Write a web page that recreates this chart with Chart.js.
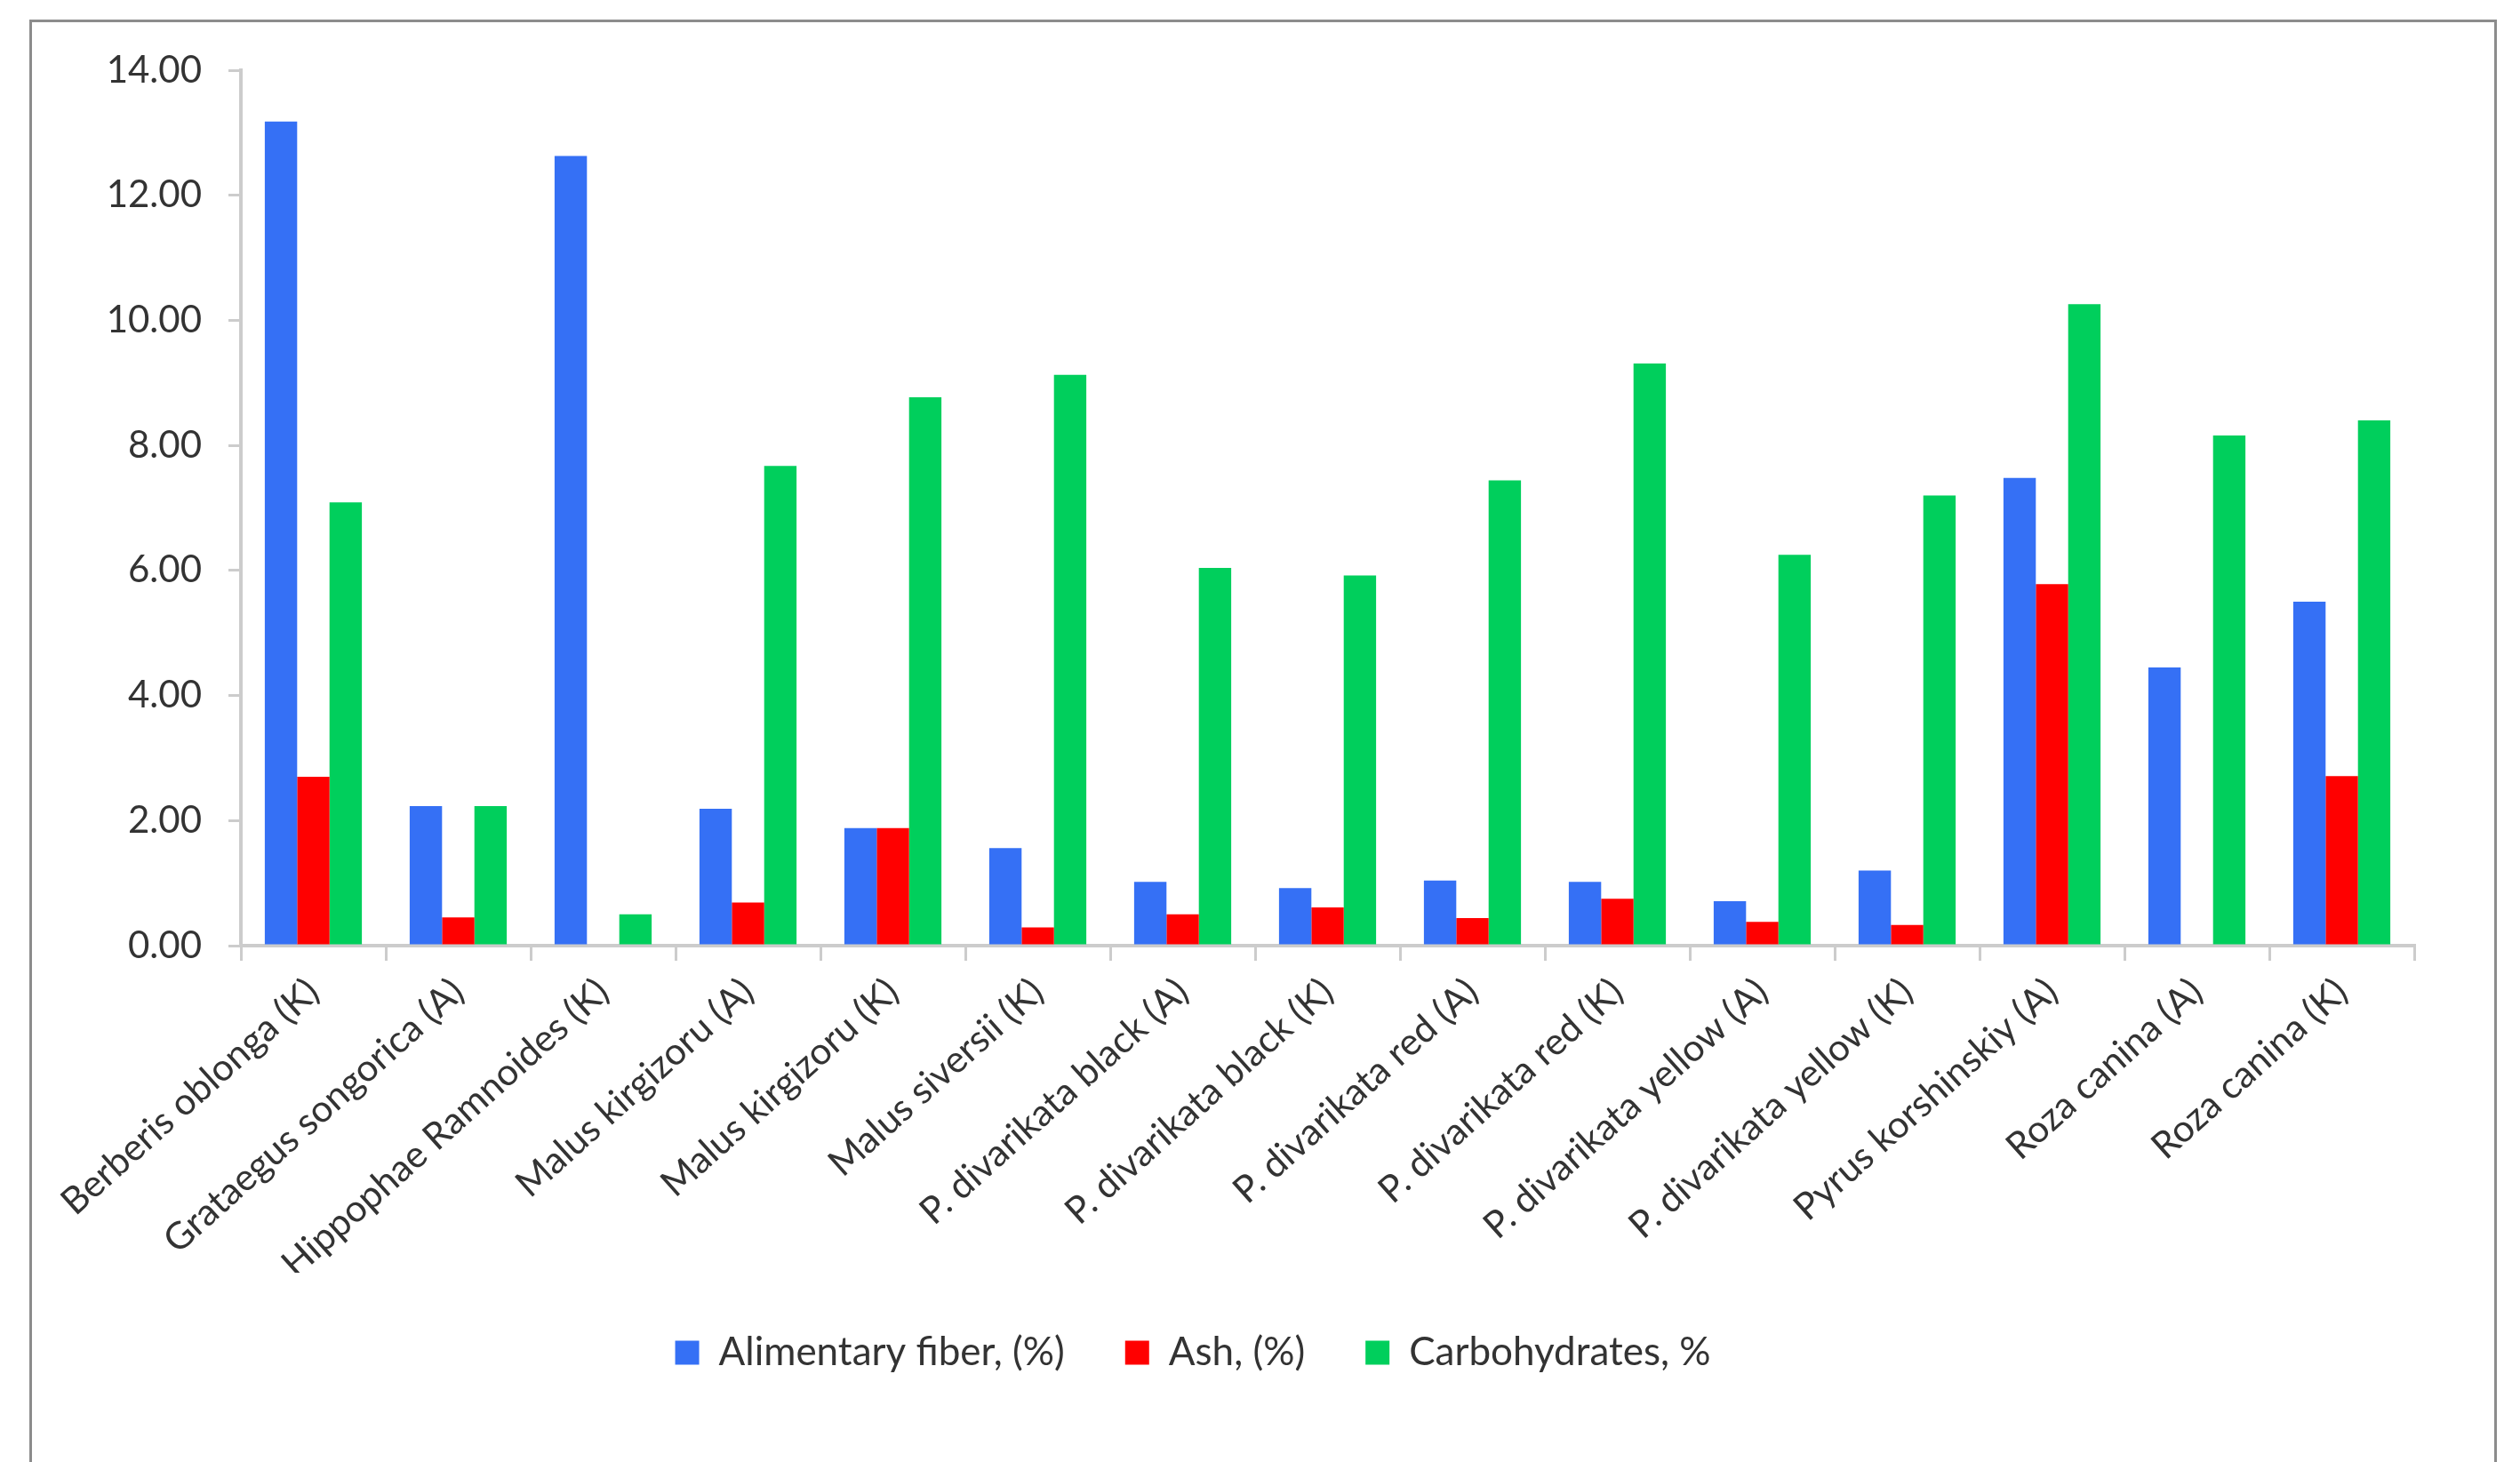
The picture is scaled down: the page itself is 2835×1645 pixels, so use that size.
<!DOCTYPE html>
<html>
<head>
<meta charset="utf-8">
<script src="https://cdn.jsdelivr.net/npm/chart.js@4.4.1/dist/chart.umd.min.js"></script>
<style>
    html, body { margin: 0; padding: 0; background: #ffffff; overflow: hidden; }
    body { width: 2835px; height: 1645px; position: relative; }
    #frame {
        position: absolute; left: 33px; top: 22px; width: 2776px; height: 1700px;
        border: 3px solid #8c8c8c; box-sizing: border-box; pointer-events: none;
    }
    #wrap { position: absolute; left: -32px; top: 0; width: 2750px; height: 1645px; }
</style>
</head>
<body>
<div id="frame"></div>
<div id="wrap"><canvas id="nutrientChart"></canvas></div>
<script>
// categories (fruit samples)
var samples = [
    'Berberis oblonga (K)', 'Grataegus songorica (A)', 'Hippophae Ramnoides (K)',
    'Malus kirgizoru (A)', 'Malus kirgizoru (K)', 'Malus siversii (K)',
    'P. divarikata black (A)', 'P. divarikata black (K)', 'P. divarikata red (A)',
    'P. divarikata red (K)', 'P. divarikata yellow (A)', 'P. divarikata yellow (K)',
    'Pyrus korshinskiy (A)', 'Roza canina (A)', 'Roza canina (K)'
];

// values
var fiber = [13.18, 2.23, 12.63, 2.19, 1.88, 1.56, 1.02, 0.92, 1.04, 1.02, 0.71, 1.20, 7.48, 4.45, 5.50];
var ash = [2.70, 0.45, 0, 0.69, 1.88, 0.29, 0.50, 0.61, 0.44, 0.75, 0.38, 0.33, 5.78, 0, 2.71];
var carbs = [7.09, 2.23, 0.50, 7.67, 8.77, 9.13, 6.04, 5.92, 7.44, 9.31, 6.25, 7.20, 10.26, 8.16, 8.40];

var seriesNames = ['Alimentary fiber, (%)', 'Ash, (%)', 'Carbohydrates, %'];
var yTicks = [0, 2, 4, 6, 8, 10, 12, 14];

document.addEventListener('DOMContentLoaded', function () {
    var ctx = document.getElementById('nutrientChart').getContext('2d');
    var fontFamily = 'Lato, "Open Sans", sans-serif';
    var axisGray = '#cccccc';

    var nutrientChart = new Chart(ctx, {
        type: 'bar',
        data: {
            labels: samples,
            datasets: [{
                label: seriesNames[0],
                data: fiber,
                backgroundColor: '#3570f5'
            }, {
                label: seriesNames[1],
                data: ash,
                backgroundColor: '#ff0000'
            }, {
                label: seriesNames[2],
                data: carbs,
                backgroundColor: '#00cf5c'
            }]
        },
        options: {
            responsive: true,
            maintainAspectRatio: false,
            animation: false,
            datasets: {
                bar: {
                    categoryPercentage: 0.67,
                    barPercentage: 1.0
                }
            },
            layout: {
                padding: { top: 79, right: 2, bottom: 91, left: 0 }
            },
            plugins: {
                tooltip: { enabled: false },
                legend: {
                    position: 'bottom',
                    labels: {
                        boxWidth: 27,
                        boxHeight: 27,
                        padding: 68,
                        color: '#333333',
                        font: { family: fontFamily, size: 44 }
                    }
                }
            },
            scales: {
                x: {
                    afterFit: function (scale) { scale.height = 368; },
                    border: { display: true, color: axisGray, width: 4 },
                    grid: {
                        display: true,
                        offset: true,
                        drawOnChartArea: false,
                        drawTicks: true,
                        tickLength: 17,
                        color: axisGray,
                        lineWidth: 3
                    },
                    ticks: {
                        autoSkip: false,
                        maxRotation: 42,
                        minRotation: 42,
                        padding: 10,
                        color: '#333333',
                        font: { family: fontFamily, size: 42 }
                    }
                },
                y: {
                    min: 0,
                    max: 14,
                    afterFit: function (scale) { scale.width = 303; },
                    afterBuildTicks: function (scale) {
                        scale.ticks = yTicks.map(function (v) { return { value: v }; });
                    },
                    border: { display: true, color: axisGray, width: 4 },
                    grid: {
                        display: true,
                        drawOnChartArea: false,
                        drawTicks: true,
                        tickLength: 14,
                        color: axisGray,
                        lineWidth: 3
                    },
                    ticks: {
                        padding: 30,
                        color: '#333333',
                        font: { family: fontFamily, size: 42 },
                        callback: function (value) { return Number(value).toFixed(2); }
                    }
                }
            }
        }
    });
});
</script>
</body>
</html>
